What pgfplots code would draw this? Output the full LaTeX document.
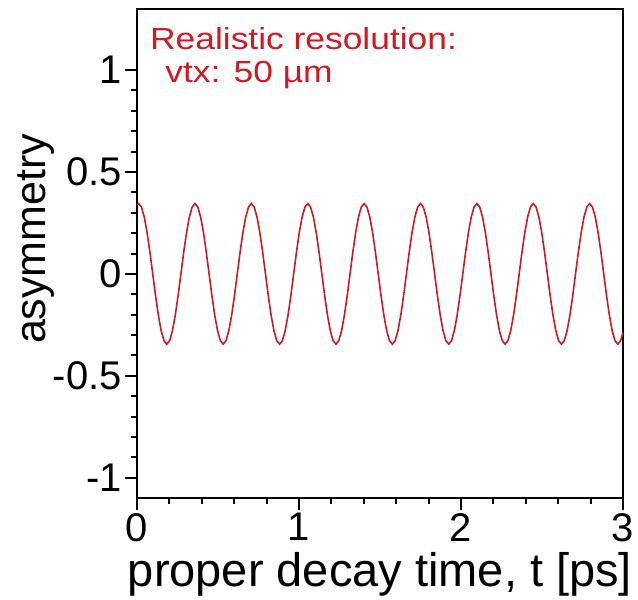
\documentclass[border=0pt]{standalone}
\usepackage{fontspec}
\setmainfont{Liberation Sans}
\newfontfamily\widefont{Liberation Sans}[FakeStretch=1.16]
\usepackage{pgfplots}
\pgfplotsset{compat=1.18}
\definecolor{curvered}{RGB}{210,25,35}

\begin{document}
\begin{tikzpicture}
\begin{axis}[
    name=ax,
    width=486pt, height=489pt, scale only axis,
    xmin=0, xmax=3, ymin=-1.1, ymax=1.3,
    xtick={0,1,2,3}, ytick={-1,-0.5,0,0.5,1},
    minor x tick num=4, minor y tick num=4,
    tick pos=left, tick align=outside,
    major tick length=12pt, minor tick length=6pt,
    axis line style={line width=1.8pt},
    tick style={black, line width=2pt},
    /pgf/number format/assume math mode=true,
    ticklabel style={font=\fontsize{40}{40}\selectfont, inner sep=3pt},
    xlabel={proper decay time, t [ps]},
    ylabel={asymmetry},
    xlabel style={font=\fontsize{47}{47}\selectfont, at={(axis description cs:0.5,0)}, anchor=base, yshift=-88pt},
    ylabel style={font=\fontsize{43}{43}\selectfont, at={(axis description cs:-0.189,0.53)}, anchor=base},
]
\addplot[curvered, line width=1.6pt] table {
t a
0.0000 0.339
0.0100 0.345
0.0274 0.328
0.0448 0.279
0.0622 0.203
0.0796 0.107
0.0970 0.000
0.1144 -0.107
0.1318 -0.203
0.1492 -0.279
0.1666 -0.328
0.1840 -0.345
0.2014 -0.328
0.2188 -0.279
0.2362 -0.203
0.2536 -0.107
0.2710 0.000
0.2884 0.107
0.3058 0.203
0.3232 0.279
0.3406 0.328
0.3580 0.345
0.3754 0.328
0.3928 0.279
0.4102 0.203
0.4276 0.107
0.4450 0.000
0.4624 -0.107
0.4798 -0.203
0.4972 -0.279
0.5146 -0.328
0.5320 -0.345
0.5494 -0.328
0.5668 -0.279
0.5842 -0.203
0.6016 -0.107
0.6190 0.000
0.6364 0.107
0.6538 0.203
0.6712 0.279
0.6886 0.328
0.7060 0.345
0.7234 0.328
0.7408 0.279
0.7582 0.203
0.7756 0.107
0.7930 0.000
0.8104 -0.107
0.8278 -0.203
0.8452 -0.279
0.8626 -0.328
0.8800 -0.345
0.8974 -0.328
0.9148 -0.279
0.9322 -0.203
0.9496 -0.107
0.9670 0.000
0.9844 0.107
1.0018 0.203
1.0192 0.279
1.0366 0.328
1.0540 0.345
1.0714 0.328
1.0888 0.279
1.1062 0.203
1.1236 0.107
1.1410 0.000
1.1584 -0.107
1.1758 -0.203
1.1932 -0.279
1.2106 -0.328
1.2280 -0.345
1.2454 -0.328
1.2628 -0.279
1.2802 -0.203
1.2976 -0.107
1.3150 0.000
1.3324 0.107
1.3498 0.203
1.3672 0.279
1.3846 0.328
1.4020 0.345
1.4194 0.328
1.4368 0.279
1.4542 0.203
1.4716 0.107
1.4890 0.000
1.5064 -0.107
1.5238 -0.203
1.5412 -0.279
1.5586 -0.328
1.5760 -0.345
1.5934 -0.328
1.6108 -0.279
1.6282 -0.203
1.6456 -0.107
1.6630 0.000
1.6804 0.107
1.6978 0.203
1.7152 0.279
1.7326 0.328
1.7500 0.345
1.7674 0.328
1.7848 0.279
1.8022 0.203
1.8196 0.107
1.8370 0.000
1.8544 -0.107
1.8718 -0.203
1.8892 -0.279
1.9066 -0.328
1.9240 -0.345
1.9414 -0.328
1.9588 -0.279
1.9762 -0.203
1.9936 -0.107
2.0110 0.000
2.0284 0.107
2.0458 0.203
2.0632 0.279
2.0806 0.328
2.0980 0.345
2.1154 0.328
2.1328 0.279
2.1502 0.203
2.1676 0.107
2.1850 0.000
2.2024 -0.107
2.2198 -0.203
2.2372 -0.279
2.2546 -0.328
2.2720 -0.345
2.2894 -0.328
2.3068 -0.279
2.3242 -0.203
2.3416 -0.107
2.3590 0.000
2.3764 0.107
2.3938 0.203
2.4112 0.279
2.4286 0.328
2.4460 0.345
2.4634 0.328
2.4808 0.279
2.4982 0.203
2.5156 0.107
2.5330 0.000
2.5504 -0.107
2.5678 -0.203
2.5852 -0.279
2.6026 -0.328
2.6200 -0.345
2.6374 -0.328
2.6548 -0.279
2.6722 -0.203
2.6896 -0.107
2.7070 0.000
2.7244 0.107
2.7418 0.203
2.7592 0.279
2.7766 0.328
2.7940 0.345
2.8114 0.328
2.8288 0.279
2.8462 0.203
2.8636 0.107
2.8810 0.000
2.8984 -0.107
2.9158 -0.203
2.9332 -0.279
2.9506 -0.328
2.9680 -0.345
2.9854 -0.328
3.0000 -0.287
};
\node[anchor=north west, inner sep=0pt, align=left, text=curvered,
      font=\widefont\fontsize{30.5}{33}\selectfont]
  at ([xshift=13pt, yshift=-18pt]rel axis cs:0,1)
  {Realistic resolution:\\\hspace*{0.5em}vtx: 50 µm};
\end{axis}
\pgfresetboundingbox
\path[use as bounding box] ([xshift=-137pt, yshift=-101pt]ax.south west)
  rectangle ([xshift=15pt, yshift=9pt]ax.north east);
\end{tikzpicture}
\end{document}
